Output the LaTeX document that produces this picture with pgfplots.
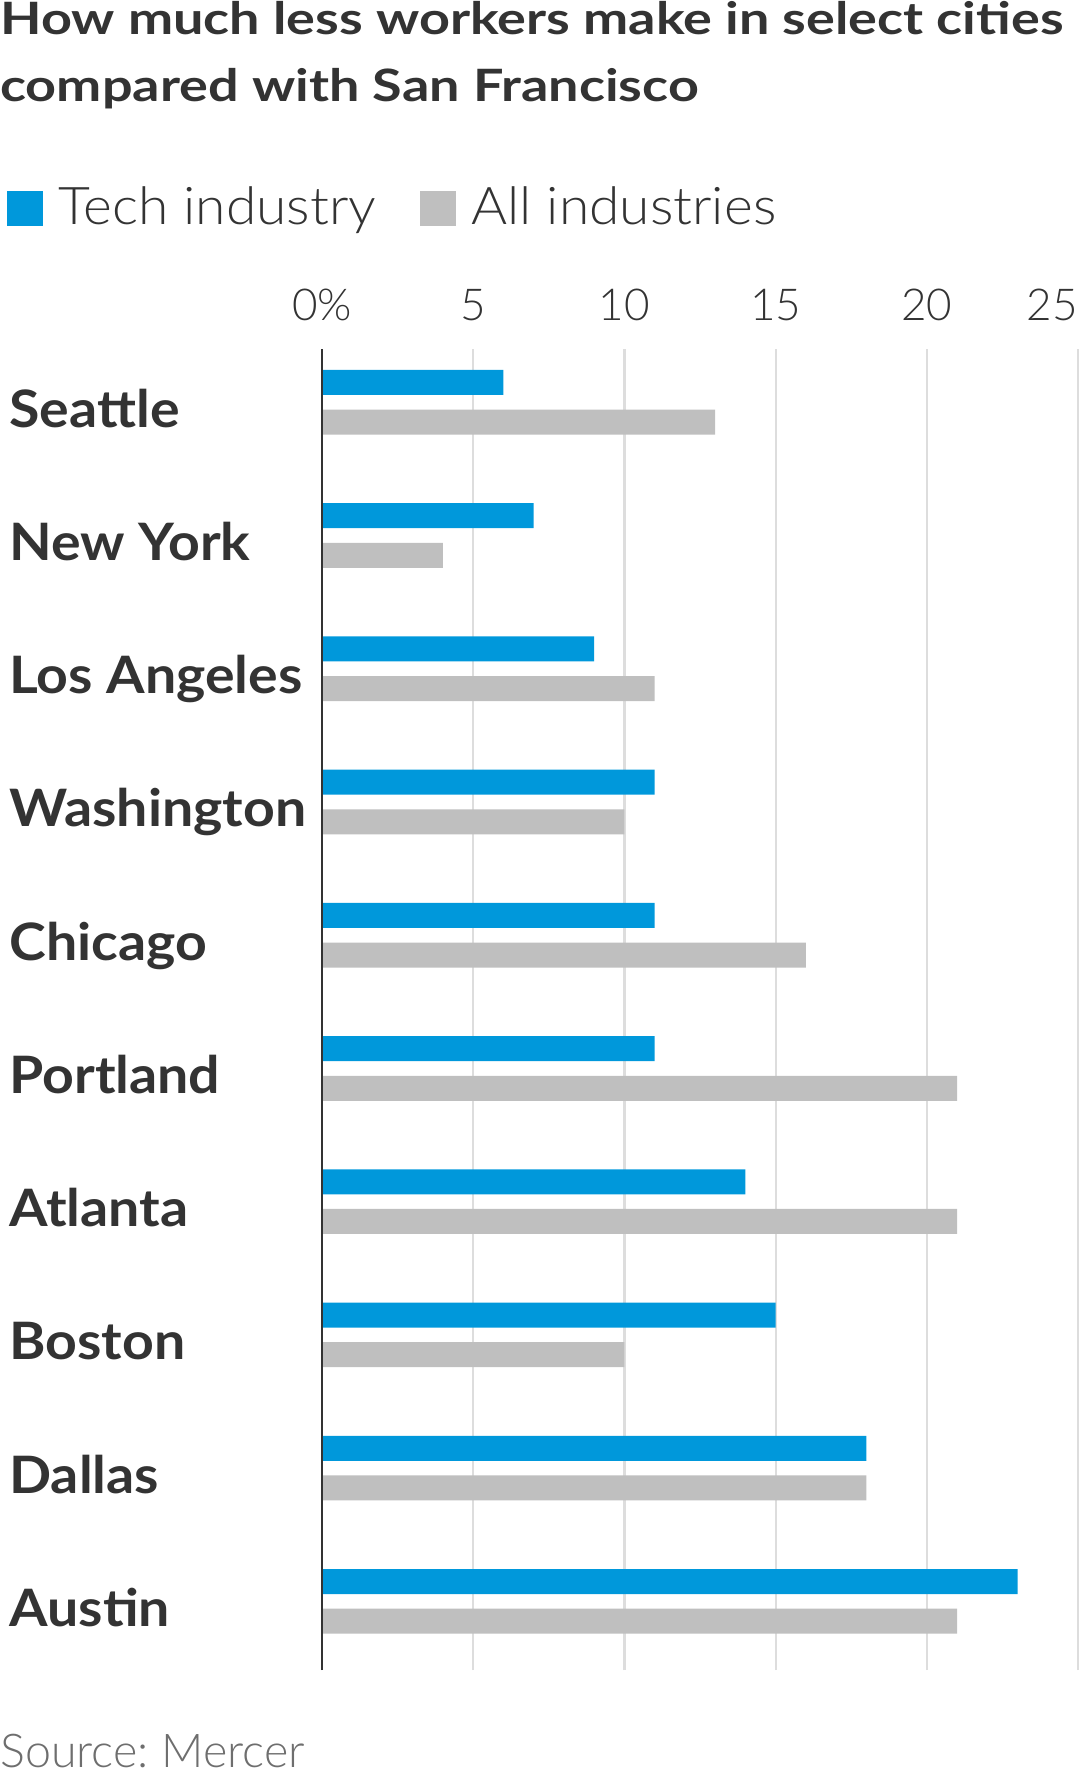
\documentclass[border=0pt]{standalone}
\usepackage{fontspec}
\setmainfont{Lato}
\newfontfamily\lightfont{Lato Light}
\newfontfamily\legfont{Lato Light}[FakeStretch=1.06]
\newfontfamily\titlefont{Lato}[FakeStretch=1.21]
\newfontfamily\cityfont{Lato}[FakeStretch=1.075]
\usepackage{pgfplots}
\pgfplotsset{compat=1.18}
\definecolor{techblue}{HTML}{0098DB}
\definecolor{allgray}{HTML}{BFBFBF}
\definecolor{txt}{HTML}{333333}
\definecolor{gridc}{HTML}{DDDDDD}
\definecolor{src}{HTML}{6E6E6E}
\begin{document}
\begin{tikzpicture}
\path[use as bounding box] (0,0) rectangle (540pt,-889pt);
\node[anchor=base west, inner sep=0pt, font=\titlefont\bfseries\fontsize{22.3}{26}\selectfont, text=txt] at (0pt,-17pt) {How much less workers make in select cities};
\node[anchor=base west, inner sep=0pt, font=\titlefont\bfseries\fontsize{22.3}{26}\selectfont, text=txt] at (0pt,-50.5pt) {compared with San Francisco};
\begin{axis}[
  at={(161pt,-835pt)}, anchor=south west,
  width=378pt, height=660.5pt, scale only axis,
  bar width=12.5pt,
  xmin=0, xmax=25, ymin=-0.515, ymax=9.4,
  xtick={0,5,10,15,20,25}, xticklabels={0\%,5,10,15,20,\llap{25}},
  xticklabel pos=upper,
  xmajorgrids, grid style={gridc, line width=1.1pt},
  ytick={0,...,9},
  yticklabels={Austin,Dallas,Boston,Atlanta,Portland,Chicago,Washington,Los Angeles,New York,Seattle},
  axis line style={draw=none},
  major tick length=0pt,
  tick style={draw=none},
  xticklabel style={font=\lightfont\fontsize{22}{26}\selectfont, text=txt, anchor=base, inner sep=0pt, yshift=14pt},
  yticklabel style={font=\cityfont\bfseries\fontsize{25.8}{30}\selectfont, text=txt, anchor=base west, inner sep=0pt, xshift=-156.5pt, yshift=-12.5pt},
  legend columns=2,
  legend cell align=left,
  legend image code/.code={\fill[#1] (0pt,-9pt) rectangle (18pt,8.5pt);},
  legend style={at={(-0.4167,1.1071)}, anchor=west, draw=none, fill=none, inner sep=0pt,
    font=\legfont\fontsize{26}{30}\selectfont, text=txt,
    /tikz/every even column/.append style={column sep=20pt},
    /tikz/every odd column/.append style={column sep=5.6pt}},
  clip=false,
]
\addplot[xbar, fill=techblue, draw=none, bar shift=9.9pt] coordinates {(6,9) (7,8) (9,7) (11,6) (11,5) (11,4) (14,3) (15,2) (18,1) (23,0)};
\addplot[xbar, fill=allgray, draw=none, bar shift=-9.9pt] coordinates {(13,9) (4,8) (11,7) (10,6) (16,5) (21,4) (21,3) (10,2) (18,1) (21,0)};
\addplot[forget plot, sharp plot, draw=txt, line width=1.3pt] coordinates {(0,-0.515) (0,9.4)};
\legend{Tech industry, All industries}
\end{axis}
\node[anchor=base west, inner sep=0pt, font=\lightfont\fontsize{23.3}{28}\selectfont, text=src] at (0pt,-883.5pt) {Source:\ Mercer};
\end{tikzpicture}
\end{document}
